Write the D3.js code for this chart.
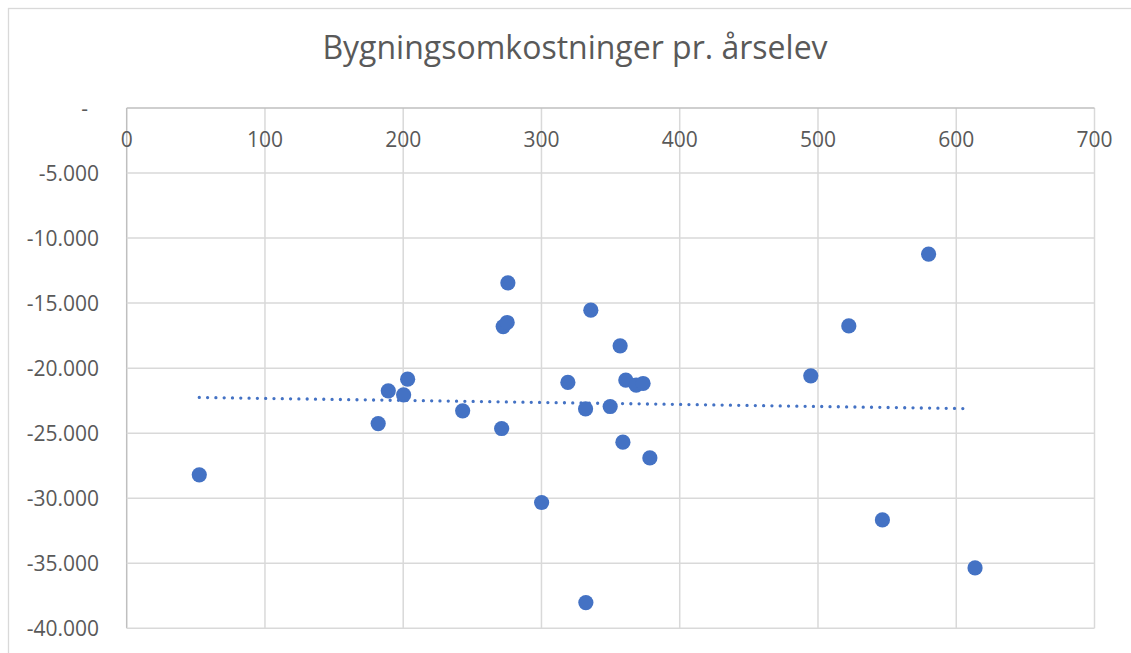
<!DOCTYPE html>
<html>
<head>
<meta charset="utf-8">
<script src="https://cdn.jsdelivr.net/npm/d3@7"></script>
<style>
	body { margin: 0; background: #fff; }
	text { font-family: "Open Sans", sans-serif; fill: #595959; }
</style>
</head>
<body>
<div id="chart"></div>
<script>

// elevtal (x) og bygningsomkostninger pr. årselev (y)
let elevTal = [52.5, 181.9, 189.2, 200.3, 203.2, 243, 271.2, 272.3, 275.2, 275.7,
	300.1, 319.1, 331.9, 332.1, 335.7, 349.7, 356.9, 358.9, 361, 368.5,
	373.5, 378.4, 494.8, 522.3, 546.6, 580, 613.6];
let omkostninger = [-28200, -24260, -21740, -22050, -20850, -23280, -24640, -16800, -16490, -13440,
	-30330, -21100, -23130, -38020, -15540, -22950, -18280, -25690, -20920, -21310,
	-21180, -26900, -20590, -16750, -31670, -11230, -35360];

let xTicks = [0, 100, 200, 300, 400, 500, 600, 700];
let yTicks = [0, -5000, -10000, -15000, -20000, -25000, -30000, -35000, -40000];
let chartTitle = "Bygningsomkostninger pr. årselev";

function initializeChart(){

	let svg = d3.select("#chart")
		.append("svg")
		.attr("width", 1131)
		.attr("height", 653);

	// chart area border (bottom and right fall outside the picture)
	svg.append("rect")
		.attr("x", 8.5)
		.attr("y", 8.5)
		.attr("width", 1140)
		.attr("height", 660)
		.attr("fill", "none")
		.attr("stroke", "#d9d9d9")
		.attr("stroke-width", 1.3);

	svg.append("text")
		.attr("x", 575)
		.attr("y", 59)
		.attr("text-anchor", "middle")
		.style("font-size", "32px")
		.text(chartTitle);

	let xScale = d3.scaleLinear()
		.domain([0, 700])
		.range([126.7, 1094.5]);

	let yScale = d3.scaleLinear()
		.domain([-40000, 0])
		.range([628.3, 108]);

	// gridlines
	svg.append("g")
		.selectAll("line")
		.data(xTicks)
		.join("line")
		.attr("x1", d => xScale(d))
		.attr("x2", d => xScale(d))
		.attr("y1", yScale(0))
		.attr("y2", yScale(-40000))
		.attr("stroke", d => d === 0 ? "#bfbfbf" : "#d9d9d9")
		.attr("stroke-width", 1.5);

	svg.append("g")
		.selectAll("line")
		.data(yTicks)
		.join("line")
		.attr("x1", xScale(0))
		.attr("x2", xScale(700))
		.attr("y1", d => yScale(d))
		.attr("y2", d => yScale(d))
		.attr("stroke", d => d === 0 ? "#bfbfbf" : "#d9d9d9")
		.attr("stroke-width", 1.5);

	// x labels under the top axis
	svg.append("g")
		.selectAll("text")
		.data(xTicks)
		.join("text")
		.attr("x", d => xScale(d))
		.attr("y", 147)
		.attr("text-anchor", "middle")
		.style("font-size", "21px")
		.text(d => d);

	let fmt = d => d === 0 ? "-" : d3.format(",")(d).replace(/,/g, ".").replace("−", "-");

	svg.append("g")
		.selectAll("text")
		.data(yTicks)
		.join("text")
		.attr("x", d => d === 0 ? 88 : 99)
		.attr("y", d => yScale(d))
		.attr("dy", "0.36em")
		.attr("text-anchor", "end")
		.style("font-size", "21px")
		.text(fmt);

	// linear trendline from the data
	let mx = d3.mean(elevTal), my = d3.mean(omkostninger);
	let sxy = d3.sum(elevTal, (x, i) => (x - mx) * (omkostninger[i] - my));
	let sxx = d3.sum(elevTal, x => (x - mx) * (x - mx));
	let slope = sxy / sxx;
	let intercept = my - slope * mx;
	let x0 = d3.min(elevTal), x1 = d3.max(elevTal) - 3;

	svg.append("line")
		.attr("x1", xScale(x0))
		.attr("y1", yScale(intercept + slope * x0))
		.attr("x2", xScale(x1))
		.attr("y2", yScale(intercept + slope * x1))
		.attr("stroke", "#4472c4")
		.attr("stroke-width", 3.3)
		.attr("stroke-linecap", "round")
		.attr("stroke-dasharray", "0 8.3");

	svg.append("g")
		.selectAll("circle")
		.data(elevTal)
		.join("circle")
		.attr("cx", d => xScale(d))
		.attr("cy", (d, i) => yScale(omkostninger[i]))
		.attr("r", 7.6)
		.attr("fill", "#4472c4");
}

initializeChart();
</script>
</body>
</html>
